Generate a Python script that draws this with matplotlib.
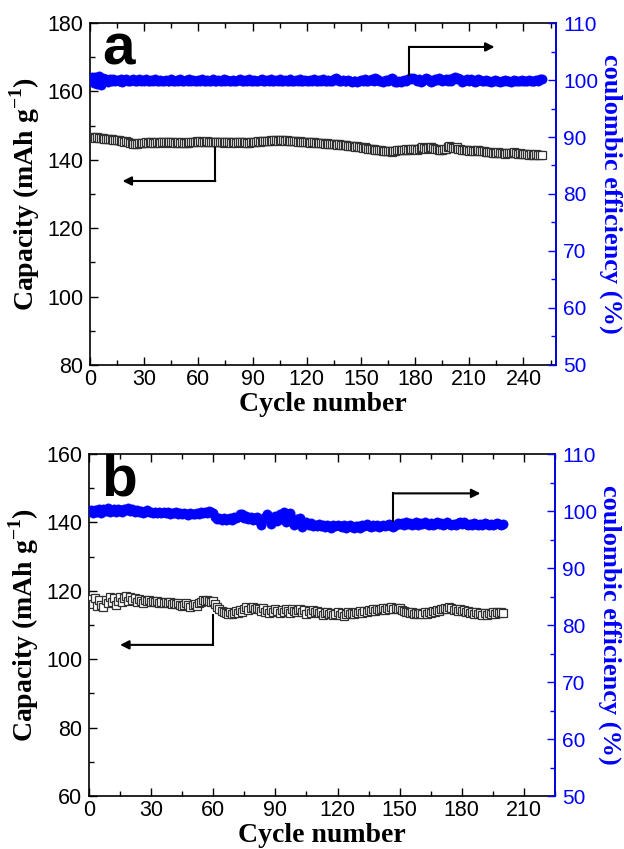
import numpy as np
import matplotlib
matplotlib.use("Agg")
import matplotlib.pyplot as plt
from matplotlib.ticker import MultipleLocator

# ---- panel a: 250 cycles ----
cap_a = [
    146.8, 146.6, 146.5, 146.6, 146.4, 146.3, 146.4, 146.2, 146.1, 146.2,
    146.0, 146.1, 145.9, 145.8, 145.9, 145.7, 145.6, 145.5, 145.3, 145.4,
    145.1, 144.9, 144.8, 144.6, 144.5, 144.7, 144.9, 145.0, 144.8, 145.0,
    145.1, 145.0, 145.2, 145.1, 144.9, 145.0, 145.1, 145.2, 145.0, 145.1,
    145.2, 145.1, 145.0, 145.1, 145.2, 145.1, 144.9, 145.0, 145.1, 145.0,
    145.1, 144.9, 144.8, 145.0, 145.1, 145.2, 145.3, 145.2, 145.4, 145.3,
    145.4, 145.3, 145.2, 145.3, 145.4, 145.3, 145.2, 145.3, 145.2, 145.1,
    145.2, 145.1, 145.2, 145.0, 145.1, 145.2, 145.1, 145.0, 145.1, 145.2,
    145.0, 145.1, 145.2, 145.1, 145.0, 145.1, 144.9, 145.0, 145.2, 145.3,
    145.1, 145.3, 145.4, 145.2, 145.4, 145.5, 145.4, 145.6, 145.5, 145.7,
    145.6, 145.7, 145.8, 145.6, 145.7, 145.8, 145.7, 145.6, 145.7, 145.6,
    145.5, 145.6, 145.4, 145.5, 145.3, 145.4, 145.3, 145.2, 145.3, 145.1,
    145.2, 145.0, 145.1, 145.2, 145.0, 144.9, 145.0, 144.8, 144.9, 144.7,
    144.8, 144.7, 144.6, 144.7, 144.5, 144.6, 144.4, 144.5, 144.3, 144.4,
    144.2, 144.3, 144.1, 144.0, 144.1, 143.9, 143.8, 143.9, 143.7, 143.6,
    143.5, 143.6, 143.4, 143.3, 143.2, 143.3, 143.1, 143.0, 142.9, 142.8,
    142.9, 142.7, 142.6, 142.7, 142.5, 142.6, 142.4, 142.5, 142.6, 142.8,
    142.9, 143.0, 142.8, 142.9, 143.1, 143.0, 142.9, 143.1, 143.2, 143.1,
    143.0, 143.2, 143.4, 143.6, 143.5, 143.3, 143.4, 143.6, 143.8, 143.5,
    143.3, 143.2, 143.0, 142.8, 142.9, 143.1, 143.3, 143.6, 143.9, 143.7,
    143.5, 143.4, 143.6, 143.3, 143.1, 142.9, 143.0, 142.8, 142.9, 142.7,
    142.8, 142.6, 142.7, 142.9, 142.8, 142.6, 142.5, 142.7, 142.4, 142.3,
    142.2, 142.3, 142.1, 141.9, 142.0, 142.2, 142.1, 141.9, 142.0, 141.8,
    142.0, 142.1, 141.9, 142.0, 142.2, 142.0, 141.8, 141.9, 141.7, 141.8,
    141.6, 141.7, 141.5, 141.6, 141.4, 141.5, 141.6, 141.4, 141.5, 141.4,
]
ce_a = [
    100.6, 99.4, 100.5, 99.3, 100.7, 99.2, 100.4, 99.6, 100.2, 99.7,
    100.1, 99.8, 100.2, 99.9, 100.0, 99.8, 100.1, 99.7, 100.0, 100.2,
    99.9, 99.8, 100.0, 100.1, 99.8, 99.9, 100.1, 99.8, 100.0, 99.9,
    100.1, 99.8, 99.9, 100.0, 99.8, 100.1, 99.9, 99.8, 100.0, 99.9,
    99.8, 100.0, 99.9, 99.8, 100.1, 99.9, 99.8, 100.0, 99.9, 100.1,
    99.9, 99.8, 100.0, 99.9, 100.1, 99.8, 100.0, 99.9, 99.8, 100.0,
    99.9, 100.1, 99.8, 99.9, 100.0, 99.8, 99.9, 100.1, 99.9, 99.8,
    100.0, 99.9, 99.8, 100.1, 99.9, 100.0, 99.8, 99.9, 100.0, 99.9,
    99.8, 100.0, 100.1, 99.9, 99.8, 100.0, 99.9, 100.1, 99.8, 99.9,
    100.0, 99.9, 99.8, 100.0, 100.1, 99.9, 99.8, 100.0, 99.9, 100.1,
    99.8, 99.9, 100.0, 99.9, 100.1, 99.8, 99.9, 100.0, 99.8, 99.9,
    100.1, 99.9, 99.8, 100.0, 99.9, 100.1, 99.8, 99.9, 100.0, 99.9,
    99.8, 100.0, 99.9, 100.1, 99.9, 99.8, 100.0, 99.9, 100.1, 99.8,
    99.9, 100.0, 99.8, 99.9, 100.1, 100.3, 100.1, 99.9, 99.8, 100.0,
    99.9, 99.8, 100.0, 99.9, 99.7, 99.8, 99.9, 99.7, 99.8, 100.0,
    99.9, 100.1, 99.9, 99.8, 100.0, 100.1, 99.9, 100.3, 100.1, 99.8,
    99.9, 99.7, 99.8, 100.0, 99.9, 100.2, 100.4, 100.1, 99.7, 99.6,
    99.8, 99.7, 99.9, 100.0, 99.8, 100.1, 100.3, 100.2, 100.4, 100.1,
    99.9, 100.2, 99.7, 99.8, 100.0, 100.3, 100.1, 99.8, 99.6, 99.9,
    100.2, 100.0, 100.3, 100.1, 99.8, 100.0, 100.2, 99.9, 100.1, 99.8,
    100.3, 100.5, 100.2, 100.4, 100.1, 99.6, 99.8, 100.0, 100.2, 99.9,
    100.1, 99.8, 99.7, 99.9, 100.1, 100.0, 99.8, 99.9, 100.0, 99.8,
    99.9, 99.7, 99.8, 100.0, 99.9, 99.8, 99.7, 99.9, 99.8, 100.0,
    99.8, 99.9, 99.7, 99.8, 100.0, 99.9, 99.8, 99.9, 100.0, 99.8,
    99.9, 99.8, 100.0, 99.9, 99.8, 99.9, 100.0, 99.9, 100.1, 100.2,
]

# ---- panel b: 200 cycles ----
cap_b = [
    117.5, 116.2, 118.0, 115.6, 117.2, 116.0, 115.3, 117.4, 116.5, 118.1,
    116.8, 117.9, 115.9, 117.0, 118.3, 116.6, 117.8, 118.5, 116.9, 118.2,
    117.4, 118.0, 116.8, 117.6, 117.1, 116.5, 117.3, 116.9, 117.2, 116.7,
    117.0, 116.6, 116.9, 116.4, 116.8, 116.5, 116.7, 116.3, 116.6, 116.2,
    116.5, 116.1, 116.4, 116.0, 115.6, 115.9, 116.3, 115.8, 115.4, 115.9,
    116.2, 115.7, 116.3, 116.8, 117.2, 116.9, 117.4, 117.0, 116.6, 116.9,
    116.1, 115.3, 114.8, 114.2, 113.9, 113.5, 113.2, 113.8, 113.1, 113.6,
    114.0, 113.4, 114.3, 113.9, 114.8, 115.2, 114.5, 115.0, 115.4, 114.7,
    115.1, 114.6, 114.2, 114.9, 113.8, 114.5, 113.6, 114.3, 113.9, 114.6,
    114.1, 113.5, 114.4, 113.9, 114.6, 114.0, 113.4, 114.8, 114.2, 113.7,
    114.3, 114.7, 113.8, 114.5, 113.3, 114.1, 113.6, 114.4, 113.9, 114.2,
    113.5, 113.9, 112.9, 113.4, 113.8, 113.2, 113.6, 112.8, 113.3, 113.7,
    113.0, 113.5, 112.7, 113.2, 113.8, 113.1, 113.6, 113.3, 113.9, 113.4,
    114.0, 113.6, 114.2, 113.7, 114.3, 114.0, 114.6, 114.1, 114.8, 114.4,
    114.7, 115.1, 114.5, 115.0, 114.6, 115.2, 114.8, 115.0, 114.7, 114.9,
    114.5, 114.1, 113.7, 113.9, 113.4, 113.8, 113.3, 113.6, 113.2, 113.5,
    113.1, 113.7, 113.3, 113.9, 113.5, 114.2, 113.8, 114.5, 114.1, 114.8,
    114.6, 115.0, 114.7, 115.2, 114.9, 114.5, 114.8, 114.2, 114.6, 114.0,
    114.3, 113.8, 114.1, 113.5, 113.9, 113.3, 113.7, 113.1, 113.5, 113.0,
    113.4, 112.9, 113.6, 113.2, 113.8, 113.3, 113.7, 113.4, 113.9, 113.6,
]
ce_b = [
    100.2, 99.6, 100.1, 99.8, 100.3, 99.7, 100.4, 100.0, 100.5, 99.9,
    100.2, 100.4, 99.8, 100.3, 100.1, 99.9, 100.4, 100.2, 100.5, 100.0,
    100.3, 99.9, 100.1, 99.8, 100.0, 99.7, 99.9, 100.1, 99.8, 99.9,
    99.7, 99.9, 99.6, 99.8, 99.7, 99.9, 99.6, 99.8, 99.5, 99.7,
    99.6, 99.8, 99.5, 99.7, 99.4, 99.6, 99.5, 99.3, 99.6, 99.5,
    99.4, 99.7, 99.5, 99.8, 99.6, 99.9, 99.7, 100.0, 99.8, 99.6,
    98.9, 98.6, 98.8, 98.5, 98.7, 98.4, 98.6, 98.8, 98.5, 98.9,
    98.7, 98.9, 99.4, 99.5, 98.8, 99.2, 98.6, 98.9, 98.4, 98.7,
    98.9, 98.3, 97.6, 98.5, 98.9, 99.4, 98.8, 97.8, 98.4, 99.2,
    98.3, 99.5, 98.6, 99.9, 98.0, 99.2, 99.7, 98.1, 97.5, 98.6,
    97.9, 98.7, 97.2, 97.8, 98.1, 97.5, 97.9, 97.3, 97.6, 97.4,
    97.7, 97.3, 97.5, 97.2, 97.6, 97.4, 97.1, 97.5, 97.3, 97.6,
    97.4, 97.2, 97.5, 97.1, 97.3, 97.6, 97.2, 97.0, 97.4, 97.3,
    97.1, 97.5, 97.3, 97.7, 97.4, 97.2, 97.6, 97.3, 97.5, 97.2,
    97.4, 97.6, 97.3, 97.5, 97.8, 97.4, 97.2, 97.6, 97.9, 97.7,
    97.9, 97.6, 98.0, 97.7, 97.9, 97.5, 97.8, 98.0, 97.6, 97.9,
    97.7, 98.0, 97.8, 97.6, 97.9, 97.5, 97.8, 98.1, 97.7, 97.9,
    97.6, 97.8, 98.0, 97.7, 97.5, 97.8, 97.6, 97.9, 98.1, 97.8,
    98.0, 97.7, 97.5, 97.8, 97.6, 97.9, 97.7, 97.5, 97.8, 97.6,
    97.9, 97.7, 97.5, 97.8, 97.6, 97.8, 97.9, 97.7, 97.6, 97.8,
]

x_ticks_a = [0, 30, 60, 90, 120, 150, 180, 210, 240]
x_ticks_b = [0, 30, 60, 90, 120, 150, 180, 210]

SANS = "Liberation Sans"
SERIF = "Liberation Serif"
BLUE = "#0000ff"

plt.rcParams["mathtext.fontset"] = "custom"
plt.rcParams["mathtext.rm"] = SERIF
plt.rcParams["mathtext.bf"] = SERIF + ":bold"

fig = plt.figure(figsize=(6.24, 8.49), dpi=100)


def draw_panel(rect, cap, ce, xlim, xticks, ylim, letter, arrows):
    ax = fig.add_axes(rect)
    cyc = np.arange(1, len(cap) + 1)
    ax.plot(cyc, cap, ls="none", marker="s", ms=5.6, mfc="white",
            mec="#303030", mew=0.9, zorder=3)
    ax.set_xlim(*xlim)
    ax.set_ylim(*ylim)
    ax.set_xticks(xticks)
    ax.xaxis.set_minor_locator(MultipleLocator(15))
    ax.yaxis.set_major_locator(MultipleLocator(20))
    ax.yaxis.set_minor_locator(MultipleLocator(10))
    ax.tick_params(which="both", direction="in", top=True, right=False,
                   labelsize=15.5)
    ax.tick_params(axis="y", pad=5)
    ax.tick_params(axis="x", pad=3)
    ax.tick_params(which="major", length=6, width=1)
    ax.tick_params(which="minor", length=3.5, width=1)
    for lab in ax.get_xticklabels() + ax.get_yticklabels():
        lab.set_fontfamily(SANS)
    for s in ax.spines.values():
        s.set_linewidth(1.2)
    ax.set_xlabel("Cycle number", fontsize=20, fontweight="bold",
                  family=SERIF)
    ax.xaxis.set_label_coords(0.5, -0.08)
    ax.set_ylabel("Capacity (mAh g$^{\\mathbf{-1}}$)", fontsize=20,
                  fontweight="bold", family=SERIF)
    ax.yaxis.set_label_coords(-0.104, 0.5)
    ax.text(0.026, 0.88, letter, transform=ax.transAxes, fontsize=42,
            fontweight="bold", family=SANS, va="baseline", ha="left")

    ax2 = ax.twinx()
    ax2.plot(np.arange(1, len(ce) + 1), ce, ls="none", marker="o", ms=6.6,
             mfc=BLUE, mec=BLUE, mew=0.5, zorder=3)
    ax2.set_ylim(50, 110)
    ax2.yaxis.set_major_locator(MultipleLocator(10))
    ax2.yaxis.set_minor_locator(MultipleLocator(5))
    ax2.tick_params(which="both", direction="in", colors=BLUE,
                    labelsize=15, pad=5)
    ax2.tick_params(which="major", length=6, width=1)
    ax2.tick_params(which="minor", length=3.5, width=1)
    for lab in ax2.get_yticklabels():
        lab.set_fontfamily(SANS)
    ax2.spines["right"].set_color(BLUE)
    ax2.spines["right"].set_linewidth(1.2)
    for k in ("left", "top", "bottom"):
        ax2.spines[k].set_visible(False)
    ax2.set_ylabel("coulombic efficiency (%)", fontsize=19,
                   fontweight="bold", family=SERIF, color=BLUE,
                   rotation=-90, va="center")
    ax2.yaxis.set_label_coords(1.118, 0.5)

    # guide arrows: (axis, x_vert, y_start, y_turn, x_end)
    for target, xv, y0, y1, xe in arrows:
        a = ax if target == "cap" else ax2
        a.plot([xv, xv], [y0, y1], color="black", lw=1.5, zorder=4)
        a.annotate("", xy=(xe, y1), xytext=(xv, y1),
                   arrowprops=dict(arrowstyle="-|>", color="black", lw=1.5,
                                   mutation_scale=13, shrinkA=0, shrinkB=0),
                   zorder=4)
    return ax, ax2


draw_panel([0.1442, 0.5701, 0.7468, 0.4028], cap_a, ce_a, (0, 258),
           x_ticks_a, (80, 180), "a",
           [("ce", 176.7, 100.9, 105.8, 224), ("cap", 69.4, 143.4, 133.8, 18)])
draw_panel([0.1426, 0.0624, 0.7468, 0.4028], cap_b, ce_b, (0, 225),
           x_ticks_b, (60, 160), "b",
           [("ce", 147, 98.3, 103.1, 189), ("cap", 59.8, 113.0, 104.2, 15)])

fig.savefig("out.png", dpi=100)
